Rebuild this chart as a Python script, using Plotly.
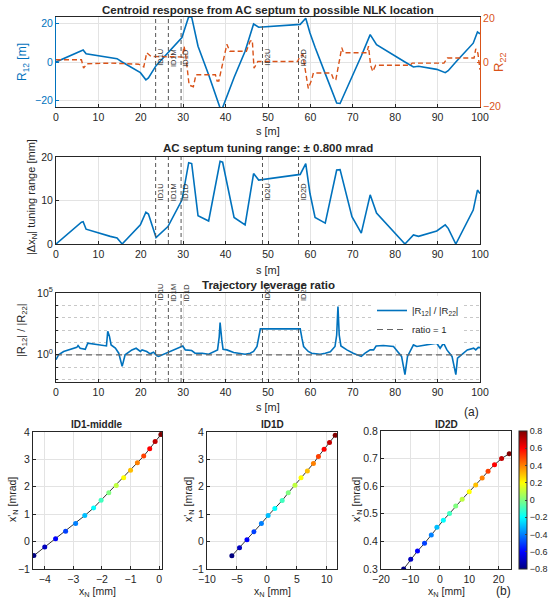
import plotly.graph_objects as go

W, H = 550, 604

# ---------------- data ----------------
s_r12 = [0, 3.0, 6.0, 6.4, 7.1, 12.8, 14.4, 15.6, 19.9, 21.2, 21.8, 23.6, 26.4, 29.7,
         31.3, 32.0, 33.5, 36.0, 38.7, 39.3, 42.0, 44.6, 46.6, 47.8, 57.6, 58.9, 59.9,
         61.1, 63.5, 66.2, 67.0, 69.8, 72.0, 74.1, 75.6, 82.3, 84.3, 85.5, 89.8, 91.8,
         92.5, 94.3, 98.4, 99.4, 100]
r12 = [0, 3.0, 6.0, 6.2, 4.2, 2.2, 1.7, 0, -5.5, -9.2, -8.2, -1.9, 5.0, 12.6,
       23.4, 23.1, 8.1, -6.6, -23.7, -23.5, -8.0, 5.5, 19.6, 17.9, 19.4, 22.6, 15.0,
       7.6, -6.0, -21.2, -21.4, -7.9, 3.1, 14.1, 8.9, 0, -2.6, -2.2, -3.8, -5.5,
       -4.5, 0, 9.7, 15.5, 14.5]

s_r22 = [0, 6.0, 6.5, 7.3, 13.0, 19.5, 20.7, 21.4, 22.4, 29.8, 30.2, 30.6, 31.4, 32.4,
         33.0, 37.6, 38.0, 38.4, 40.3, 41.0, 44.9, 45.8, 46.3, 46.7, 47.6, 57.0, 57.5,
         58.2, 59.5, 60.3, 60.7, 64.9, 65.5, 66.0, 67.4, 67.8, 73.3, 73.7, 74.2, 74.7,
         75.4, 83.5, 84.0, 91.5, 92.3, 98.6, 99.0, 99.5, 100]
r22 = [1.0, 1.0, -2.8, -0.8, -0.5, -1.0, -2.2, 4.2, 2.5, 2.3, 7.2, 3.0, -10.5, -11.2,
       -5.8, -5.8, -8.6, -8.6, 8.0, 4.9, 4.9, 9.5, 9.8, -2.8, 0.2, 0.2, 2.6,
       3.4, -12.0, -8.0, -5.0, -5.0, -8.0, -8.0, 6.5, 4.2, 4.2, 7.2, -1.5, -4.3,
       -1.5, -1.5, -0.5, -0.5, 1.8, 1.8, 6.0, 4.0, -3.5]

s_tune = [0, 6.0, 6.4, 7.1, 12.8, 14.4, 15.6, 19.9, 21.2, 21.8, 23.6, 26.4, 29.7,
          31.3, 32.0, 33.5, 36.0, 38.7, 39.3, 42.0, 44.6, 46.6, 47.8, 57.6, 58.9,
          59.9, 61.1, 63.5, 66.2, 67.0, 69.8, 72.0, 74.1, 75.6, 82.3, 84.3, 85.5,
          89.8, 91.8, 92.5, 94.3, 98.4, 99.4, 100]
tune = [0, 5.0, 5.1, 3.4, 1.75, 1.4, 0, 4.4, 7.3, 6.9, 1.5, 4.0, 10.1,
        18.7, 18.5, 6.5, 5.3, 19.0, 18.8, 6.1, 4.4, 16.2, 14.7, 16.0, 18.5,
        11.6, 6.1, 4.8, 17.0, 17.1, 6.3, 2.5, 11.3, 7.1, 0, 2.1, 1.75,
        3.0, 4.4, 3.6, 0, 7.8, 12.4, 11.6]

s_ratio = [0, 0.6, 1.8, 4.9, 5.2, 5.7, 6.9, 7.5, 11.9, 12.2, 12.6, 13.0, 14.0, 14.8,
           15.6, 16.3, 17.9, 18.9, 19.9, 20.3, 21.4, 22.2, 23.0, 23.8, 24.2, 29.3,
           29.9, 30.5, 32.0, 32.8, 34.5, 36.0, 37.5, 38.1, 38.5, 38.7, 39.1, 39.4,
           40.3, 41.9, 44.6, 45.8, 46.6, 47.4, 48.2, 57.6, 58.0, 58.4, 59.0, 59.5,
           60.3, 62.3, 63.5, 64.7, 65.8, 66.2, 66.5, 66.8, 67.2, 68.6, 70.1, 72.0,
           72.9, 74.1, 74.9, 75.5, 77.2, 79.6, 81.5, 82.3, 82.9, 84.3, 85.1, 89.8,
           90.6, 91.4, 92.2, 93.4, 94.3, 94.7, 97.0, 98.5, 99.0, 99.6, 100]
ratio = [0.40, 1.0, 1.86, 4.0, 5.6, 3.4, 2.8, 8.7, 5.2, 80, 32, 6.3, 3.5, 1.35,
         0.115, 1.0, 2.5, 3.4, 1.86, 2.5, 1.86, 1.2, 1.6, 0.83, 0.74, 4.7,
         5.2, 2.5, 2.2, 1.35, 1.35, 1.12, 1.86, 2.5, 30, 400, 16, 2.8,
         2.5, 1.55, 1.12, 1.35, 1.86, 4.7, 126, 126, 22, 4.7, 2.8, 1.86,
         1.35, 1.12, 1.35, 1.74, 4.7, 40, 7900, 40, 5.2, 2.5, 1.35, 0.74,
         1.35, 2.5, 2.5, 5.2, 5.6, 4.7, 0.74, 0.025, 0.74, 6.3, 4.7, 8.7,
         3.4, 8.7, 2.5, 0.74, 0.025, 0.54, 2.5, 3.4, 2.5, 4.0, 3.8]
ratio_ref_s = [0, 100]
ratio_ref = [1, 1]

id_names = ["ID1U", "ID1M", "ID1D", "ID2U", "ID2D"]
id_pos = [23.5, 26.5, 29.5, 48.7, 57.2]

kick = [-0.8, -0.7, -0.6, -0.5, -0.4, -0.3, -0.2, -0.1, 0.0,
        0.1, 0.2, 0.3, 0.4, 0.5, 0.6, 0.7, 0.8]
id1m_x = [-4.38, -4.0, -3.62, -3.27, -2.92, -2.6, -2.29, -2.03, -1.76,
          -1.5, -1.24, -1.0, -0.76, -0.54, -0.33, -0.14, 0.06]
id1m_xp = [-0.51, -0.2, 0.1, 0.38, 0.66, 0.95, 1.23, 1.51, 1.78,
           2.05, 2.33, 2.6, 2.88, 3.12, 3.39, 3.65, 3.91]
id1d_x = [-5.85, -4.57, -3.33, -2.16, -0.92, 0.2, 1.32, 2.55, 3.56,
          4.68, 5.69, 6.75, 7.76, 8.6, 9.55, 10.45, 11.4]
id1d_xp = [-0.52, -0.22, 0.07, 0.36, 0.66, 0.95, 1.21, 1.5, 1.78,
           2.06, 2.33, 2.58, 2.85, 3.11, 3.37, 3.62, 3.88]
id2d_x = [-12.3, -9.9, -7.6, -5.2, -2.9, -1.0, 1.2, 3.3, 5.4,
          7.6, 10.0, 12.2, 14.4, 16.4, 18.6, 21.0, 23.6]
id2d_xp = [0.300, 0.335, 0.365, 0.393, 0.423, 0.451, 0.477, 0.501, 0.528,
           0.553, 0.580, 0.604, 0.630, 0.654, 0.678, 0.700, 0.718]

# ---------------- styling ----------------
FONT = "Arial, Liberation Sans, Helvetica, sans-serif"
BLUE = "#0072BD"
ORANGE = "#D95319"
AX = "#262626"
GRID = "#e3e3e3"
TICKF = dict(family=FONT, size=10.5, color=AX)
JET = [[0, "#000080"], [0.125, "#0000ff"], [0.375, "#00ffff"],
       [0.625, "#ffff00"], [0.875, "#ff0000"], [1, "#800000"]]


def dx(a, b):
    return [a / W, b / W]


def dy(top, bot):
    return [1 - bot / H, 1 - top / H]


fig = go.Figure()

# Panel 1
fig.add_trace(go.Scatter(x=s_r12, y=r12, mode="lines", line=dict(color=BLUE, width=1.6),
                         xaxis="x", yaxis="y", showlegend=False))
fig.add_trace(go.Scatter(x=s_r22, y=r22, mode="lines",
                         line=dict(color=ORANGE, width=1.4, dash="5px,3px"),
                         xaxis="x", yaxis="y2", showlegend=False))
# Panel 2
fig.add_trace(go.Scatter(x=s_tune, y=tune, mode="lines", line=dict(color=BLUE, width=1.6),
                         xaxis="x3", yaxis="y3", showlegend=False))
# Panel 3
fig.add_trace(go.Scatter(x=s_ratio, y=ratio, mode="lines", line=dict(color=BLUE, width=1.6),
                         xaxis="x4", yaxis="y4", name="|R<sub>12</sub>| / |R<sub>22</sub>|"))
fig.add_trace(go.Scatter(x=ratio_ref_s, y=ratio_ref, mode="lines",
                         line=dict(color="#666666", width=1.2, dash="6px,4px"),
                         xaxis="x4", yaxis="y4", name="ratio = 1"))

# Bottom scatter panels
bottom = [(id1m_x, id1m_xp, "x5", "y5"), (id1d_x, id1d_xp, "x6", "y6"),
          (id2d_x, id2d_xp, "x7", "y7")]
for i, (xx, yy, xa, ya) in enumerate(bottom):
    fig.add_trace(go.Scatter(x=xx, y=yy, mode="lines", line=dict(color="#333333", width=1),
                             xaxis=xa, yaxis=ya, showlegend=False))
    mk = dict(color=kick, colorscale=JET, cmin=-0.8, cmax=0.8, size=5, line=dict(width=0))
    if i == 2:
        mk.update(showscale=True, colorbar=dict(
            x=519 / W, xanchor="left", xpad=0, ypad=0,
            y=1 - 569 / H, yanchor="bottom", len=(569 - 431) / H, lenmode="fraction",
            thickness=8, outlinewidth=1, outlinecolor=AX,
            tickvals=[-0.8, -0.6, -0.4, -0.2, 0, 0.2, 0.4, 0.6, 0.8],
            ticks="inside", ticklen=2, tickfont=dict(family=FONT, size=9, color=AX)))
    fig.add_trace(go.Scatter(x=xx, y=yy, mode="markers", marker=mk,
                             xaxis=xa, yaxis=ya, showlegend=False))


def axis(domain, anchor, rng, dtick, **kw):
    d = dict(domain=domain, anchor=anchor, range=rng, dtick=dtick, tick0=0,
             showgrid=True, gridcolor=GRID, gridwidth=1, zeroline=False,
             showline=True, linecolor=AX, linewidth=1, mirror=True, automargin=False,
             ticks="inside", ticklen=3, tickcolor=AX, tickfont=TICKF)
    d.update(kw)
    return d


PX = dx(56, 480)
fig.update_layout(
    width=W, height=H, margin=dict(l=0, r=0, t=0, b=0, autoexpand=False),
    paper_bgcolor="white", plot_bgcolor="white",
    font=dict(family=FONT, color=AX),
    xaxis=axis(PX, "y", [0, 100], 10),
    yaxis=axis(dy(17, 107), "x", [-23.2, 23.2], 20, mirror=False,
               linecolor=BLUE, tickcolor=BLUE, tickfont=dict(family=FONT, size=10.5, color=BLUE)),
    yaxis2=dict(overlaying="y", side="right", anchor="x", range=[-20.4, 20.4], dtick=20,
                tick0=0, showgrid=False, zeroline=False, showline=True, linecolor=ORANGE,
                automargin=False,
                ticks="inside", ticklen=3, tickcolor=ORANGE,
                tickfont=dict(family=FONT, size=10.5, color=ORANGE)),
    xaxis3=axis(PX, "y3", [0, 100], 10),
    yaxis3=axis(dy(157, 244), "x3", [0, 20], 10),
    xaxis4=axis(PX, "y4", [0, 100], 10),
    yaxis4=axis(dy(293, 382), "x4", [-2.2, 5], None, type="log",
                tickmode="array", tickvals=[1, 1e5],
                ticktext=["10<sup>0</sup>", "10<sup>5</sup>"],
                minor=dict(tickvals=[1e-2, 1e-1, 10, 100, 1000, 1e4], showgrid=True,
                           griddash="dot", gridcolor="#c8c8c8", ticks="inside",
                           ticklen=2, tickcolor=AX)),
    xaxis5=axis(dx(33, 162), "y5", [-4.41, 0.1], 1),
    yaxis5=axis(dy(432, 569), "x5", [-1, 4], 1),
    xaxis6=axis(dx(207, 337), "y6", [-10, 11.7], 5),
    yaxis6=axis(dy(432, 569), "x6", [-1, 4], 1),
    xaxis7=axis(dx(381, 511), "y7", [-20, 24.2], 10),
    yaxis7=axis(dy(431, 569), "x7", [0.3, 0.8], 0.1),
    legend=dict(x=372 / W, y=1 - 296 / H, xanchor="left", yanchor="top",
                bgcolor="white", borderwidth=0,
                font=dict(family=FONT, size=9.5, color=AX), tracegroupgap=0,
                itemwidth=30),
)

# vertical ID lines and their labels
panels = [("x", "y domain", 0.67), ("x3", "y3 domain", 0.60), ("x4", "y4 domain", 1.13)]
for xr, yr, ly in panels:
    for name, pos in zip(id_names, id_pos):
        fig.add_shape(type="line", xref=xr, yref=yr, x0=pos, x1=pos, y0=0, y1=1,
                      line=dict(color="#555555", width=1, dash="4px,3px"))
        fig.add_annotation(x=pos, xref=xr, y=ly, yref=yr, text=name, textangle=-90,
                           showarrow=False, xshift=5,
                           font=dict(family=FONT, size=7.5, color="#333333"))


def ann(x, y, text, size=11, bold=False, color=AX, angle=0):
    t = f"<b>{text}</b>" if bold else text
    fig.add_annotation(x=x / W, y=1 - y / H, xref="paper", yref="paper", text=t,
                       showarrow=False, textangle=angle, xanchor="center", yanchor="middle",
                       font=dict(family=FONT, size=size, color=color))


# titles
ann(268, 10, "Centroid response from AC septum to possible NLK location", 11.5, True)
ann(268, 148, "AC septum tuning range: \u00b1 0.800 mrad", 11.5, True)
ann(268, 285, "Trajectory leverage ratio", 11.5, True)
ann(97, 424, "ID1-middle", 10, True)
ann(272, 424, "ID1D", 10, True)
ann(446, 424, "ID2D", 10, True)

# axis titles
ann(268, 131, "s [m]", 11)
ann(268, 270, "s [m]", 11)
ann(268, 407, "s [m]", 11)
ann(23, 62, "R<sub>12</sub> [m]", 12, color=BLUE, angle=-90)
ann(500, 62, "R<sub>22</sub>", 13, color=ORANGE, angle=-90)
ann(32, 197, "|\u0394x<sub>N</sub>| tuning range [mm]", 11, angle=-90)
ann(22, 330, "|R<sub>12</sub>| / |R<sub>22</sub>|", 11, angle=-90)
ann(97, 592, "x<sub>N</sub> [mm]", 10.5)
ann(272, 592, "x<sub>N</sub> [mm]", 10.5)
ann(446, 592, "x<sub>N</sub> [mm]", 10.5)
ann(13, 500, "x'<sub>N</sub> [mrad]", 10.5, angle=-90)
ann(189, 500, "x'<sub>N</sub> [mrad]", 10.5, angle=-90)
ann(357, 500, "x'<sub>N</sub> [mrad]", 10.5, angle=-90)
ann(471, 412, "(a)", 12)
ann(503, 591, "(b)", 12)

fig.write_html("out.html", config={"displayModeBar": False},
               post_script="document.body.style.margin='0px';"
                           "document.body.style.overflow='hidden';")
